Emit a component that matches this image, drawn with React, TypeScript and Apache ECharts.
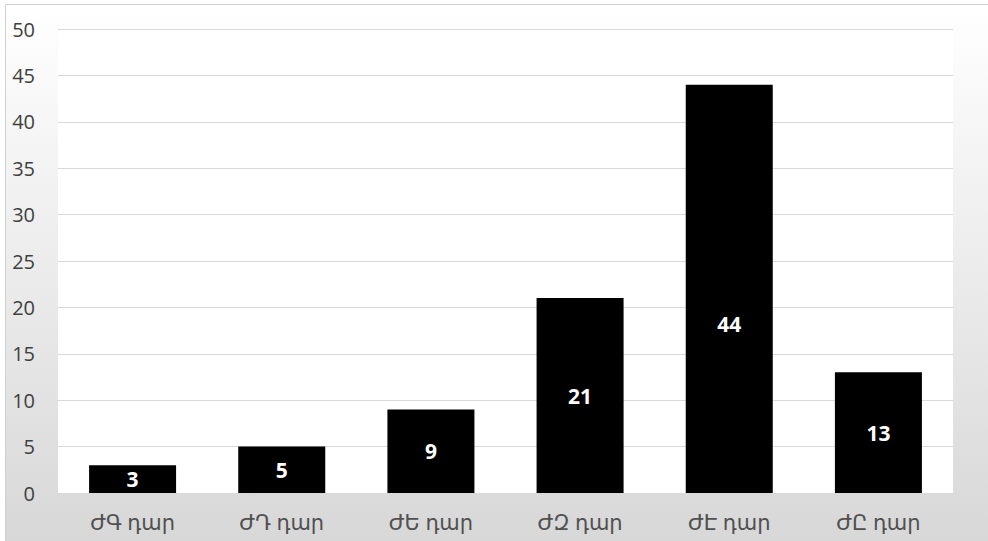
import React, { useEffect, useRef } from "react";
import * as echarts from "echarts";

const categories = ["ԺԳ դար", "ԺԴ դար", "ԺԵ դար", "ԺԶ դար", "ԺԷ դար", "ԺԸ դար"];
const values = [3, 5, 9, 21, 44, 13];
const yTicks = { min: 0, max: 50, interval: 5 };

export default function App() {
  const ref = useRef<HTMLDivElement>(null);
  useEffect(() => {
    if (!ref.current) return;
    const chart = echarts.init(ref.current, undefined, { renderer: "svg" });
    chart.setOption({
      animation: false,
      graphic: [
        {
          type: "rect",
          z: -10,
          silent: true,
          shape: { x: 5.5, y: 4.5, width: 1000, height: 560 },
          style: {
            fill: new echarts.graphic.LinearGradient(0, 0, 0, 1, [
              { offset: 0, color: "#ffffff" },
              { offset: 1, color: "#d6d6d6" },
            ]),
            stroke: "#d0d0d0",
            lineWidth: 1,
          },
        },
      ],
      grid: {
        left: 58,
        right: 35,
        top: 29,
        bottom: 48,
        show: true,
        backgroundColor: "#ffffff",
        borderWidth: 0,
      },
      xAxis: {
        type: "category",
        data: categories,
        axisTick: { show: false },
        axisLine: { lineStyle: { color: "#d9d9d9", width: 1 } },
        axisLabel: {
          color: "#505050",
          fontSize: 21,
          margin: 18,
          fontFamily: "'Noto Sans', 'DejaVu Sans', sans-serif",
        },
      },
      yAxis: {
        type: "value",
        min: yTicks.min,
        max: yTicks.max,
        interval: yTicks.interval,
        axisLine: { show: false },
        axisTick: { show: false },
        splitLine: { lineStyle: { color: "#d9d9d9", width: 1 } },
        axisLabel: {
          color: "#404040",
          fontSize: 20,
          margin: 23,
          fontFamily: "'Open Sans', sans-serif",
        },
      },
      series: [
        {
          type: "bar",
          data: values.map((v, i) =>
            i === 4 ? { value: v, label: { offset: [0, 35] } } : v
          ),
          barWidth: 87,
          itemStyle: { color: "#000000" },
          label: {
            show: true,
            position: "inside",
            color: "#ffffff",
            fontWeight: "bold",
            fontSize: 21,
            fontFamily: "'Open Sans', sans-serif",
          },
        },
      ],
    });
    return () => chart.dispose();
  }, []);
  return (
    <div
      ref={ref}
      style={{ position: "fixed", left: 0, top: 0, width: 988, height: 541, background: "#fff" }}
    />
  );
}
